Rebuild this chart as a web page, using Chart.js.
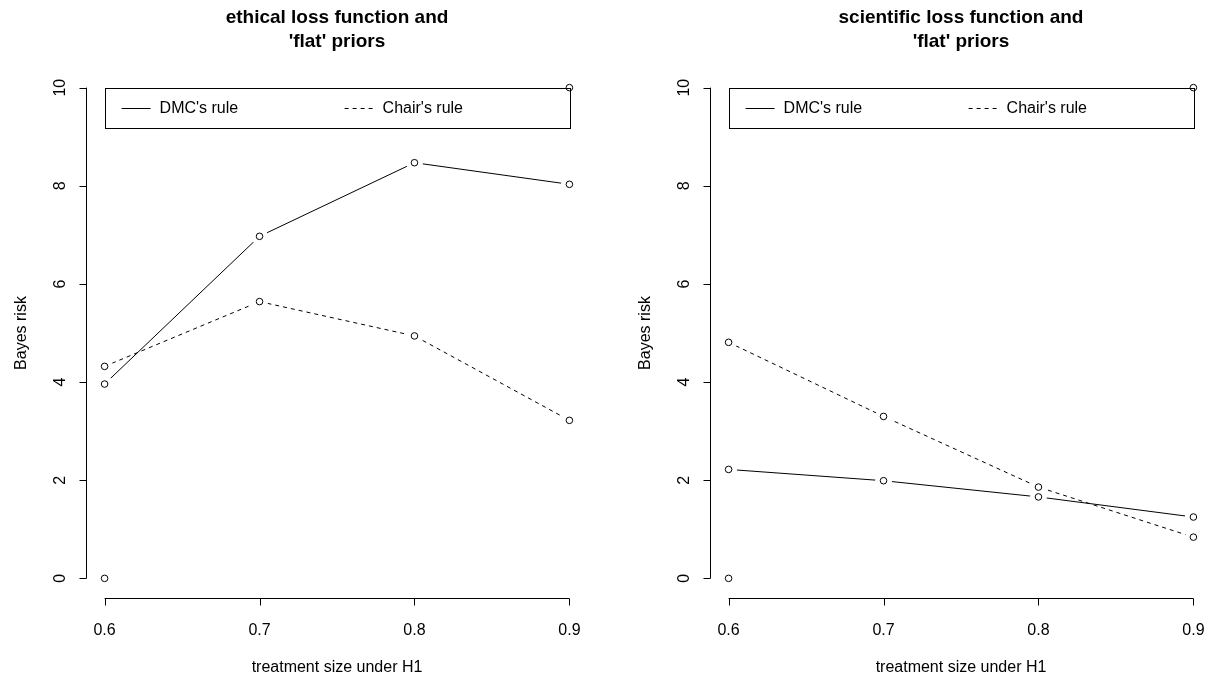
<!DOCTYPE html>
<html>
<head>
<meta charset="utf-8">
<script src="https://cdn.jsdelivr.net/npm/chart.js@4.4.1/dist/chart.umd.min.js"></script>
<style>
  html, body { margin: 0; padding: 0; background: #fff; overflow: hidden; }
  #wrap { position: relative; width: 1209px; height: 686px; overflow: hidden; }
  canvas { position: absolute; top: 0; }
</style>
</head>
<body>
<div id="wrap">
  <canvas id="left" width="624" height="686" style="left:0px"></canvas>
  <canvas id="right" width="624" height="686" style="left:624px"></canvas>
</div>
<script>
// data
const xValues = [0.6, 0.7, 0.8, 0.9];
const ethicalDMC = [3.96, 6.97, 8.47, 8.03];
const ethicalChair = [4.32, 5.64, 4.94, 3.22];
const scientificDMC = [2.22, 1.99, 1.66, 1.25];
const scientificChair = [4.81, 3.30, 1.86, 0.84];
// the two corner points from the empty plot() call
const rangeX = [0.6, 0.9];
const rangeY = [0, 10];
const xTicks = [0.6, 0.7, 0.8, 0.9];
const yTicks = [0, 2, 4, 6, 8, 10];
const seriesNames = ["DMC's rule", "Chair's rule"];
const xTitle = 'treatment size under H1';
const yTitle = 'Bayes risk';

const FONT = '"Liberation Sans", Arial, sans-serif';

// axes, titles and legend drawn R style
const rBase = {
  id: 'rBase',
  afterDraw(chart, args, opts) {
    const ctx = chart.ctx;
    const xs = chart.scales.x, ys = chart.scales.y, a = chart.chartArea;
    ctx.save();
    ctx.strokeStyle = '#000';
    ctx.fillStyle = '#000';
    ctx.lineWidth = 1;
    ctx.setLineDash([]);

    // x axis
    const yAx = Math.round(a.bottom) + 0.5;
    const x0 = xs.getPixelForValue(xTicks[0]);
    const x1 = xs.getPixelForValue(xTicks[xTicks.length - 1]);
    ctx.beginPath();
    ctx.moveTo(x0, yAx); ctx.lineTo(x1, yAx);
    xTicks.forEach(t => {
      const px = Math.round(xs.getPixelForValue(t)) + 0.5;
      ctx.moveTo(px, yAx); ctx.lineTo(px, yAx + 7);
    });
    ctx.stroke();
    ctx.font = '16px ' + FONT;
    ctx.textAlign = 'center';
    ctx.textBaseline = 'middle';
    xTicks.forEach(t => ctx.fillText(t.toFixed(1), xs.getPixelForValue(t), yAx + 32));

    // y axis
    const xAx = Math.round(a.left) + 0.5;
    const y0 = ys.getPixelForValue(yTicks[0]);
    const y1 = ys.getPixelForValue(yTicks[yTicks.length - 1]);
    ctx.beginPath();
    ctx.moveTo(xAx, y0); ctx.lineTo(xAx, y1);
    yTicks.forEach(t => {
      const py = Math.round(ys.getPixelForValue(t)) + 0.5;
      ctx.moveTo(xAx, py); ctx.lineTo(xAx - 7, py);
    });
    ctx.stroke();
    yTicks.forEach(t => {
      ctx.save();
      ctx.translate(xAx - 26, ys.getPixelForValue(t));
      ctx.rotate(-Math.PI / 2);
      ctx.fillText(String(t), 0, 0);
      ctx.restore();
    });

    // axis titles
    const cx = (a.left + a.right) / 2;
    const cy = (a.top + a.bottom) / 2;
    ctx.fillText(xTitle, cx, 668);
    ctx.save();
    ctx.translate(22, cy);
    ctx.rotate(-Math.PI / 2);
    ctx.fillText(yTitle, 0, 0);
    ctx.restore();

    // main title
    ctx.font = 'bold 19px ' + FONT;
    opts.lines.forEach((s, i) => ctx.fillText(s, cx, 18 + i * 24));

    // legend
    const lx = xs.getPixelForValue(xTicks[0]);
    const lr = xs.getPixelForValue(xTicks[xTicks.length - 1]);
    const ly = ys.getPixelForValue(yTicks[yTicks.length - 1]);
    ctx.strokeRect(Math.round(lx) + 0.5, Math.round(ly) + 0.5, Math.round(lr - lx), 40);
    ctx.font = '16px ' + FONT;
    ctx.textAlign = 'left';
    const entries = [[17, []], [240, [4, 4]]];
    entries.forEach((e, i) => {
      const ey = Math.round(ly + 20) + 0.5;
      ctx.setLineDash(e[1]);
      ctx.beginPath();
      ctx.moveTo(lx + e[0], ey); ctx.lineTo(lx + e[0] + 29, ey);
      ctx.stroke();
      ctx.setLineDash([]);
      ctx.fillText(seriesNames[i], lx + e[0] + 38, ey);
    });
    ctx.restore();
  }
};

function pts(ys) {
  return xValues.map((x, i) => ({ x: x, y: ys[i] }));
}

function makeChart(id, titleLines, dmc, chair) {
  const corners = rangeX.map((x, i) => ({ x: x, y: rangeY[i] }));
  new Chart(document.getElementById(id), {
    type: 'line',
    data: {
      datasets: [
        { label: seriesNames[0], data: pts(dmc), borderColor: '#000', borderWidth: 1,
          pointRadius: 0, fill: false, tension: 0, order: 3 },
        { label: seriesNames[1], data: pts(chair), borderColor: '#000', borderWidth: 1,
          borderDash: [4, 4], pointRadius: 0, fill: false, tension: 0, order: 3 },
        // white halo so the lines stop short of the points (type = "b")
        { label: 'gap', data: pts(dmc).concat(pts(chair)), showLine: false,
          pointRadius: 8.5, pointBackgroundColor: '#fff', pointBorderColor: '#fff',
          pointBorderWidth: 0, order: 2 },
        { label: 'points', data: pts(dmc).concat(pts(chair), corners), showLine: false,
          pointRadius: 3.3, pointBackgroundColor: 'rgba(0,0,0,0)', pointBorderColor: '#000',
          pointBorderWidth: 1, order: 1 }
      ]
    },
    options: {
      responsive: false,
      animation: false,
      events: [],
      layout: { padding: { left: 86, right: 36, top: 68, bottom: 88 } },
      scales: {
        x: { type: 'linear', min: 0.588, max: 0.912, display: false },
        y: { type: 'linear', min: -0.4, max: 10.4, display: false }
      },
      plugins: {
        legend: { display: false },
        tooltip: { enabled: false },
        rBase: { lines: titleLines }
      }
    },
    plugins: [rBase]
  });
}

makeChart('left', ['ethical loss function and', "'flat' priors"], ethicalDMC, ethicalChair);
makeChart('right', ['scientific loss function and', "'flat' priors"], scientificDMC, scientificChair);
</script>
</body>
</html>
